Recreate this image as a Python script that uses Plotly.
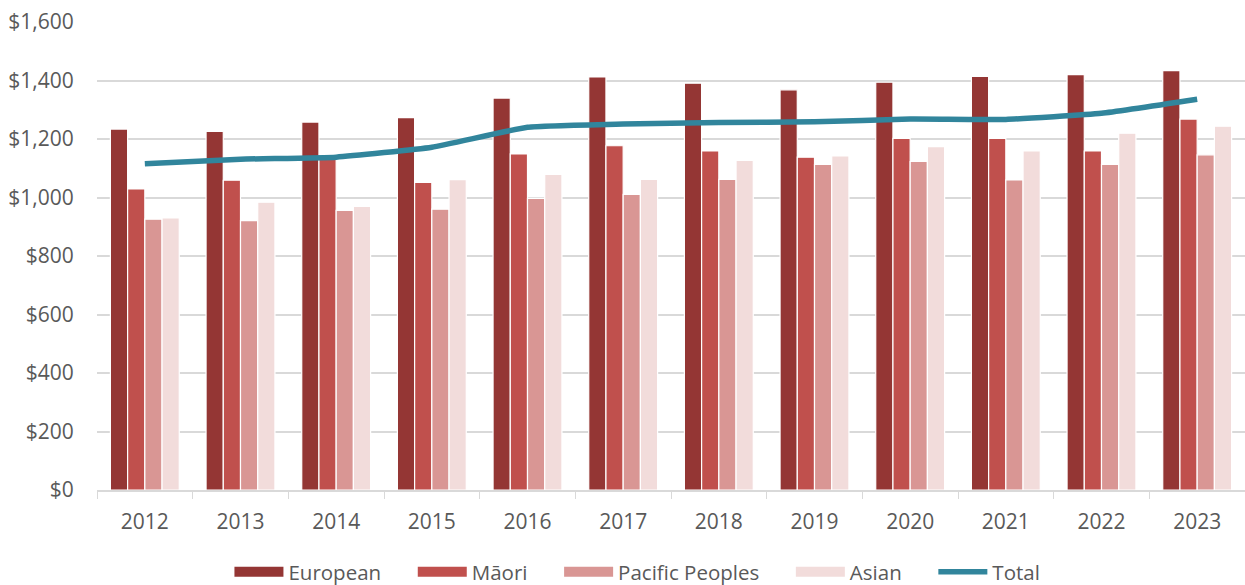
import plotly.graph_objects as go

years = ["2012", "2013", "2014", "2015", "2016", "2017",
         "2018", "2019", "2020", "2021", "2022", "2023"]

european = [1234, 1226, 1258, 1273, 1340, 1412, 1391, 1368, 1394, 1414, 1420, 1434]
maori = [1029, 1059, 1137, 1052, 1149, 1177, 1159, 1138, 1202, 1202, 1159, 1268]
pacific = [926, 921, 956, 960, 997, 1011, 1062, 1113, 1123, 1060, 1113, 1146]
asian = [930, 984, 970, 1061, 1079, 1062, 1127, 1142, 1174, 1159, 1220, 1244]
total = [1115, 1131, 1138, 1172, 1240, 1251, 1256, 1259, 1268, 1267, 1288, 1336]

y_ticks = [0, 200, 400, 600, 800, 1000, 1200, 1400, 1600]
y_tick_text = ["$0", "$200", "$400", "$600", "$800", "$1,000", "$1,200", "$1,400", "$1,600"]

bar_series = [
    ("European", european, "#943634"),
    ("Māori", maori, "#C0504D"),
    ("Pacific Peoples", pacific, "#D99694"),
    ("Asian", asian, "#F2DCDB"),
]
total_color = "#31859C"
font_family = "Open Sans, Lato, sans-serif"
text_color = "#595959"
legend_pad = "\u00a0" * 5  # extra spacing after each legend label

fig = go.Figure()

for name, values, color in bar_series:
    fig.add_trace(go.Bar(
        x=years, y=values, name=name,
        marker=dict(color=color, line=dict(color="white", width=1.2)),
        showlegend=False, legendgroup=name,
    ))

fig.add_trace(go.Scatter(
    x=years, y=total, name="Total", mode="lines",
    line=dict(color=total_color, width=5.5, shape="spline", smoothing=0.4),
    showlegend=False, legendgroup="Total",
))

# Legend keys drawn as wide swatches
for name, _, color in bar_series:
    fig.add_trace(go.Scatter(
        x=[None], y=[None], name=name + legend_pad, mode="lines",
        line=dict(color=color, width=12),
        legendgroup=name,
    ))
fig.add_trace(go.Scatter(
    x=[None], y=[None], name="Total", mode="lines",
    line=dict(color=total_color, width=5.5),
    legendgroup="Total",
))

fig.update_layout(
    width=1245, height=585,
    margin=dict(l=97, r=0, t=22, b=95, autoexpand=False),
    paper_bgcolor="white", plot_bgcolor="white",
    font=dict(family=font_family, size=20, color=text_color),
    barmode="group", bargap=0.28, bargroupgap=0.0,
    legend=dict(
        orientation="h", xref="container", x=0.512, xanchor="center",
        yref="container", y=13 / 585, yanchor="middle",
        font=dict(size=20.5, color=text_color),
        itemwidth=49, traceorder="normal",
    ),
    showlegend=True,
)

fig.update_xaxes(
    type="category", automargin=False,
    showline=True, linecolor="#D9D9D9", linewidth=1.5,
    ticks="outside", tickson="boundaries", ticklen=7, tickcolor="#D9D9D9",
    ticklabelstandoff=12,
    showgrid=False,
    tickfont=dict(size=21, color=text_color),
)
fig.update_yaxes(
    range=[0, 1600], tickvals=y_ticks, ticktext=y_tick_text, automargin=False,
    showgrid=True, gridcolor="#D9D9D9", gridwidth=1.5,
    zeroline=False, showline=False,
    ticks="outside", ticklen=18, tickcolor="rgba(0,0,0,0)",
    tickfont=dict(size=21, color=text_color),
)

fig.write_html("out.html")
